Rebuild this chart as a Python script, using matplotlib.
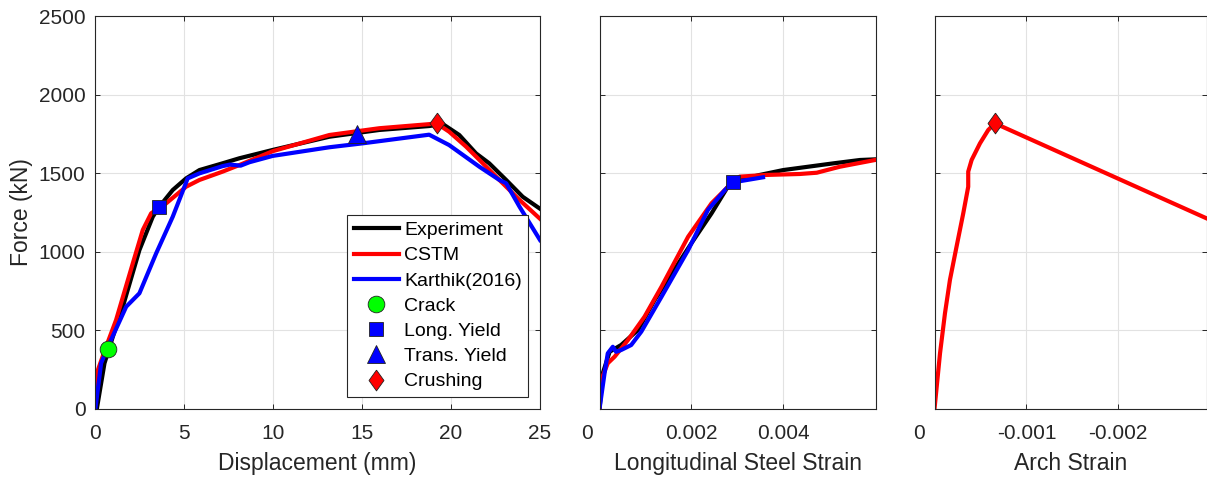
import matplotlib
matplotlib.use('Agg')
from matplotlib import pyplot as plt
from matplotlib import transforms

# force vs displacement (mm)
exp_disp = [0.13, 0.56, 1.03, 1.59, 2.52, 3.27, 3.61, 4.39, 5.14, 5.89, 7.19, 8.13, 10.0,
            13.18, 15.98, 18.78, 19.54, 20.47, 21.41, 22.15, 23.1, 24.03, 25.0]
exp_force = [0, 291, 460, 651, 1011, 1223, 1283, 1393, 1467, 1520, 1563, 1595, 1648,
             1732, 1775, 1800, 1813, 1743, 1626, 1563, 1457, 1350, 1274]

cstm_disp = [0, 0.19, 0.65, 1.21, 2.15, 2.71, 3.18, 4.02, 5.14, 5.89, 7.19, 8.13, 10.0,
             13.18, 15.98, 18.78, 19.2, 19.9, 20.85, 21.79, 22.72, 23.85, 25.0]
cstm_force = [0, 248, 396, 566, 927, 1139, 1245, 1308, 1414, 1457, 1510, 1552, 1640,
              1743, 1786, 1812, 1817, 1764, 1669, 1563, 1457, 1330, 1210]

karthik_disp = [0.05, 0.37, 0.84, 1.78, 2.52, 3.46, 4.39, 5.23, 5.89, 7.19, 7.6, 8.2, 8.7,
                10.0, 13.18, 15.05, 18.78, 19.9, 21.6, 22.72, 23.1, 23.85, 25.0]
karthik_force = [0, 291, 418, 651, 736, 990, 1223, 1467, 1499, 1545, 1555, 1548, 1570,
                 1610, 1665, 1690, 1745, 1679, 1541, 1457, 1436, 1287, 1075]

# force vs longitudinal steel strain
exp_steel = [0, 0.00007, 0.00022, 0.00047, 0.00084, 0.0012, 0.002, 0.00244, 0.00284,
             0.0029, 0.00349, 0.004, 0.0051, 0.00567, 0.006]
exp_steel_force = [0, 226, 364, 407, 503, 693, 1054, 1245, 1436, 1446, 1489, 1520, 1563,
                   1584, 1588]

cstm_steel = [0, 0.000036, 0.00018, 0.00033, 0.00062, 0.00098, 0.00135, 0.00193, 0.00244,
              0.0028, 0.00305, 0.00364, 0.00436, 0.00473, 0.00523, 0.006]
cstm_steel_force = [0, 184, 291, 333, 439, 587, 778, 1096, 1309, 1414, 1478, 1489, 1495,
                    1503, 1541, 1584]

karthik_steel = [0, 0.00011, 0.00018, 0.00029, 0.00036, 0.00047, 0.00069, 0.00091, 0.00135,
                 0.00193, 0.00236, 0.00273, 0.00291, 0.00356]
karthik_steel_force = [0, 227, 354, 396, 364, 375, 407, 492, 714, 1011, 1266, 1393, 1442, 1474]

# force vs arch strain (CSTM only)
cstm_arch = [0, -0.00006, -0.000114, -0.000168, -0.00024, -0.000313, -0.000367, -0.000367,
             -0.000404, -0.000495, -0.000585, -0.000658, -0.00296]
cstm_arch_force = [0, 354, 609, 821, 1033, 1245, 1414, 1510, 1584, 1690, 1775, 1817, 1213]

# limit state points
crack_pt = (0.73, 382)
long_yield_pt = (3.63, 1285)
trans_yield_pt = (14.74, 1752)
crush_pt = (19.21, 1817)
long_yield_steel_pt = (0.00291, 1442)
crush_arch_pt = (-0.000658, 1817)

force_ticks = [0, 500, 1000, 1500, 2000, 2500]
disp_ticks = [0, 5, 10, 15, 20, 25]
steel_ticks = [0, 0.002, 0.004]
steel_labels = ['', '0.002', '0.004']
arch_ticks = [0, -0.001, -0.002]
arch_labels = ['', '-0.001', '-0.002']

plt.rcParams['font.family'] = ['Liberation Sans', 'DejaVu Sans']
plt.rcParams['axes.unicode_minus'] = False

DIAMOND = [(0, 1), (0.72, 0), (0, -1), (-0.72, 0), (0, 1)]
LW = 3.0
TXT = '#262626'
TICK_PAD = 11
TICK_FS = 15


def style_axes(ax, xlim, xticks, xlabels=None):
    ax.set_xlim(xlim)
    ax.set_ylim(0, 2500)
    ax.set_xticks(xticks)
    if xlabels is not None:
        ax.set_xticklabels(xlabels)
    ax.set_yticks(force_ticks)
    ax.grid(True, color='#e2e2e2', linewidth=0.8)
    ax.set_axisbelow(True)
    ax.tick_params(direction='in', top=True, right=True, length=3.5, width=0.7,
                   labelsize=TICK_FS, colors=TXT)
    ax.tick_params(axis='x', pad=TICK_PAD)
    ax.tick_params(axis='y', pad=6.5)
    for s in ax.spines.values():
        s.set_color(TXT)
        s.set_linewidth(0.8)


# the "0" of the strain panels sits a bit left of the axis
def shifted_zero(fig, ax, dx_px):
    off = transforms.ScaledTranslation(dx_px / 100, -TICK_PAD / 72, fig.dpi_scale_trans)
    ax.text(0, 0, '0', transform=ax.get_xaxis_transform() + off, ha='center', va='top',
            fontsize=TICK_FS, color=TXT)


fig = plt.figure(figsize=(12.07, 4.8), dpi=100)
ax1 = fig.add_axes([94.5 / 1207, 71 / 480, 445.5 / 1207, 393 / 480])
ax2 = fig.add_axes([599.5 / 1207, 71 / 480, 276.5 / 1207, 393 / 480])
ax3 = fig.add_axes([934.5 / 1207, 71 / 480, 272 / 1207, 393 / 480])

# displacement
ax1.plot(exp_disp, exp_force, color='black', lw=LW, label='Experiment', solid_joinstyle='round')
ax1.plot(cstm_disp, cstm_force, color='red', lw=LW, label='CSTM', solid_joinstyle='round')
ax1.plot(karthik_disp, karthik_force, color='blue', lw=LW, label='Karthik(2016)', solid_joinstyle='round')
ax1.plot(*crack_pt, 'o', color='#00ff00', mec='#222222', mew=0.6, ms=12, label='Crack', zorder=5)
ax1.plot(*long_yield_pt, 's', color='blue', mec='#222222', mew=0.6, ms=9.5, label='Long. Yield', zorder=5)
ax1.plot(*trans_yield_pt, '^', color='blue', mec='#222222', mew=0.6, ms=13.5, label='Trans. Yield', zorder=5)
ax1.plot(*crush_pt, marker=DIAMOND, ls='none', color='red', mec='#222222', mew=0.6, ms=15,
         label='Crushing', zorder=5)
style_axes(ax1, (0, 25), disp_ticks)
ax1.set_xlabel('Displacement (mm)', fontsize=16.5, color=TXT, labelpad=6)
ax1.set_ylabel('Force (kN)', fontsize=16.5, color=TXT, labelpad=4)
leg = ax1.legend(loc='upper left', bbox_to_anchor=(0.567, 0.494), fontsize=14, frameon=True,
                 fancybox=False, framealpha=1, edgecolor=TXT, handlelength=2.3,
                 handletextpad=0.27, labelspacing=0.39, borderpad=0.35, borderaxespad=0,
                 numpoints=1)
leg.get_frame().set_linewidth(0.8)

# longitudinal steel strain
ax2.plot(exp_steel, exp_steel_force, color='black', lw=LW, solid_joinstyle='round')
ax2.plot(cstm_steel, cstm_steel_force, color='red', lw=LW, solid_joinstyle='round')
ax2.plot(karthik_steel, karthik_steel_force, color='blue', lw=LW, solid_joinstyle='round')
ax2.plot(*long_yield_steel_pt, 's', color='blue', mec='#222222', mew=0.6, ms=9.5, zorder=5)
style_axes(ax2, (0, 0.00602), steel_ticks, steel_labels)
ax2.set_yticklabels([])
ax2.set_xlabel('Longitudinal Steel Strain', fontsize=16.5, color=TXT, labelpad=6)
shifted_zero(fig, ax2, -13)

# arch strain
ax3.plot(cstm_arch, cstm_arch_force, color='red', lw=LW, solid_joinstyle='round')
ax3.plot(*crush_arch_pt, marker=DIAMOND, ls='none', color='red', mec='#222222', mew=0.6,
         ms=15, zorder=5)
style_axes(ax3, (0, -0.00296), arch_ticks, arch_labels)
ax3.set_yticklabels([])
ax3.set_xlabel('Arch Strain', fontsize=16.5, color=TXT, labelpad=6)
shifted_zero(fig, ax3, -15)

fig.savefig('out.png', dpi=100)
